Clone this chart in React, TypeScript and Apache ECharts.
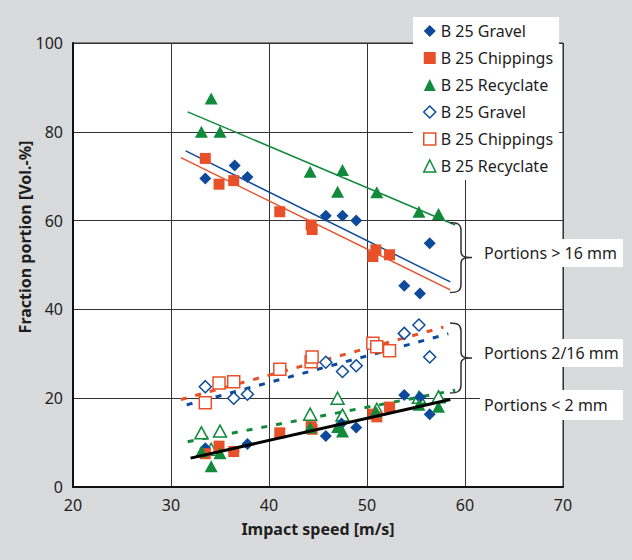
import { useEffect, useRef } from "react";
import * as echarts from "echarts";

const BLUE = "#0d4a9b";
const ORANGE = "#e8502a";
const GREEN = "#128a3b";
const INK = "#1e1e1e";
const FONT = '"Noto Sans", "Open Sans", sans-serif';

const materials = ["B 25 Gravel", "B 25 Chippings", "B 25 Recyclate"];
const MID = " (2/16 mm)";

// Fraction > 16 mm [speed m/s, vol.-%]
const gravelCoarse = [[33.5, 69.5], [36.5, 72.4], [37.8, 69.8], [45.8, 61.1], [47.5, 61.1], [48.9, 60.0], [53.8, 45.3], [55.4, 43.6], [56.4, 54.9]];
const chippingsCoarse = [[33.5, 74.0], [34.9, 68.2], [36.4, 69.0], [41.1, 62.0], [44.3, 59.0], [44.4, 58.0], [50.6, 51.9], [50.9, 53.4], [52.3, 52.3]];
const recyclateCoarse = [[33.1, 80.0], [34.1, 87.5], [35.0, 80.0], [44.2, 71.0], [47.0, 66.5], [47.5, 71.4], [51.0, 66.4], [55.3, 62.0], [57.3, 61.5]];

// Fraction 2/16 mm
const gravelMid = [[33.5, 22.6], [36.4, 20.0], [37.8, 20.9], [45.8, 28.1], [47.5, 26.0], [48.9, 27.3], [53.8, 34.6], [55.3, 36.5], [56.4, 29.3]];
const chippingsMid = [[33.5, 19.0], [34.9, 23.4], [36.4, 23.7], [41.1, 26.5], [44.3, 28.2], [44.4, 29.3], [50.6, 32.4], [51.0, 31.6], [52.3, 30.7]];
const recyclateMid = [[33.1, 12.2], [34.1, 8.5], [35.0, 12.6], [44.2, 16.4], [47.0, 20.0], [47.5, 16.2], [51.0, 17.5], [55.3, 20.2], [57.3, 20.3]];

// Fraction < 2 mm
const gravelFine = [[33.5, 8.7], [36.4, 8.0], [37.8, 9.7], [45.8, 11.5], [47.4, 14.3], [48.9, 13.4], [53.8, 20.7], [55.4, 20.2], [56.4, 16.4]];
const chippingsFine = [[33.5, 7.5], [34.9, 9.2], [36.4, 8.0], [41.1, 12.2], [44.3, 13.6], [44.4, 13.0], [50.6, 16.4], [51.0, 15.8], [52.3, 18.0]];
const recyclateFine = [[33.1, 8.0], [34.1, 4.7], [35.0, 7.6], [44.2, 13.4], [47.0, 13.5], [47.5, 12.5], [50.9, 17.0], [55.3, 18.5], [57.3, 18.1]];

// Linear trend lines, start and end points
const gravelCoarseFit = [[31.5, 75.7], [58.5, 46.2]];
const chippingsCoarseFit = [[31.0, 74.2], [58.5, 44.4]];
const recyclateCoarseFit = [[31.7, 84.5], [59.0, 59.0]];
const gravelMidFit = [[31.6, 18.5], [58.3, 34.5]];
const chippingsMidFit = [[31.0, 19.7], [57.8, 36.0]];
const recyclateMidFit = [[31.7, 10.2], [59.0, 21.8]];
const fineFit = [[32.0, 6.5], [58.5, 19.7]];

const annotations = ["Portions > 16 mm", "Portions 2/16 mm", "Portions < 2 mm"];

const colors = [BLUE, ORANGE, GREEN];
const symbols = ["diamond", "rect", "triangle"];
const sizes: any[] = [12, 11, [13, 12]];
const openSizes: any[] = [12, 12, [13, 12]];

echarts.graphic.registerShape(
  "brace",
  echarts.graphic.extendPath(
    "M0 0 C8 0 11 2 11 8 L11 29 C11 34 14 35 22 35 C14 35 11 36 11 41 L11 62 C11 68 8 70 0 70",
    {}
  )
);

function filledSeries(i: number, data: number[][]) {
  return {
    type: "scatter",
    name: materials[i],
    data,
    symbol: symbols[i],
    symbolSize: sizes[i],
    itemStyle: { color: colors[i], opacity: 1 },
    z: 3,
  };
}

function openSeries(i: number, data: number[][]) {
  return {
    type: "scatter",
    name: materials[i] + MID,
    data,
    symbol: symbols[i],
    symbolSize: openSizes[i],
    itemStyle: { color: "#fff", borderColor: colors[i], borderWidth: 1.5, opacity: 1 },
    z: 3,
  };
}

function fitSeries(name: string, data: number[][], color: string, width: number, dashed: boolean, z: number) {
  return {
    type: "line",
    name,
    data,
    symbol: "none",
    silent: true,
    lineStyle: { color, width, type: dashed ? [6, 9] : "solid", cap: "butt" },
    z,
  };
}

export default function App() {
  const ref = useRef<HTMLDivElement>(null);

  useEffect(() => {
    document.body.style.margin = "0";
    const chart = echarts.init(ref.current!, undefined, { renderer: "svg" });

    const legendData = [
      ...materials.map((m, i) => ({ name: m, icon: symbols[i], itemStyle: { color: colors[i], borderWidth: 0 } })),
      ...materials.map((m, i) => ({
        name: m + MID,
        icon: symbols[i],
        itemStyle: { color: "#fff", borderColor: colors[i], borderWidth: 1.5 },
      })),
    ];

    const textBox = (label: string, y: number, h: number) => ({
      type: "group",
      z: 100,
      children: [
        { type: "rect", shape: { x: 480, y, width: 143, height: h }, style: { fill: "#fff" }, z: 100 },
        {
          type: "text",
          z: 101,
          style: {
            text: label,
            x: 484,
            y: y + h / 2,
            textVerticalAlign: "middle",
            font: `16px ${FONT}`,
            fill: INK,
          },
        },
      ],
    });

    chart.setOption({
      animation: false,
      backgroundColor: "#d9dadc",
      textStyle: { fontFamily: FONT },
      grid: {
        left: 73,
        top: 43,
        right: 69,
        bottom: 73,
        show: true,
        backgroundColor: "#fff",
        borderColor: "#222",
        borderWidth: 1,
      },
      xAxis: {
        type: "value",
        min: 20,
        max: 70,
        interval: 10,
        name: "Impact speed [m/s]",
        nameLocation: "middle",
        nameGap: 34,
        nameTextStyle: { fontFamily: FONT, fontSize: 16, fontWeight: "bold", color: INK },
        axisLine: { show: true, lineStyle: { color: "#111", width: 2 } },
        axisTick: { show: false },
        axisLabel: { fontFamily: FONT, fontSize: 16, color: INK, margin: 10 },
        splitLine: { show: true, lineStyle: { color: "#333", width: 1 } },
      },
      yAxis: {
        type: "value",
        min: 0,
        max: 100,
        interval: 20,
        axisLine: { show: true, lineStyle: { color: "#111", width: 2 } },
        axisTick: { show: false },
        axisLabel: { fontFamily: FONT, fontSize: 16, color: INK, margin: 10 },
        splitLine: { show: true, lineStyle: { color: "#333", width: 1 } },
      },
      legend: {
        orient: "vertical",
        left: 413,
        top: 17,
        backgroundColor: "#fff",
        padding: [4, 6, 4, 10],
        itemWidth: 12,
        itemHeight: 12,
        itemGap: 7,
        selectedMode: false,
        textStyle: { fontFamily: FONT, fontSize: 16, color: INK, lineHeight: 20 },
        formatter: (name: string) => name.replace(MID, ""),
        data: legendData,
        z: 10,
      },
      series: [
        fitSeries("fit gravel coarse", gravelCoarseFit, BLUE, 1.5, false, 2),
        fitSeries("fit chippings coarse", chippingsCoarseFit, ORANGE, 1.5, false, 2),
        fitSeries("fit recyclate coarse", recyclateCoarseFit, GREEN, 1.5, false, 2),
        fitSeries("fit gravel mid", gravelMidFit, BLUE, 3, true, 2),
        fitSeries("fit chippings mid", chippingsMidFit, ORANGE, 3, true, 2),
        fitSeries("fit recyclate mid", recyclateMidFit, GREEN, 3, true, 2),
        filledSeries(0, gravelCoarse),
        filledSeries(1, chippingsCoarse),
        filledSeries(2, recyclateCoarse),
        openSeries(0, gravelMid),
        openSeries(1, chippingsMid),
        openSeries(2, recyclateMid),
        filledSeries(0, gravelFine),
        filledSeries(1, chippingsFine),
        filledSeries(2, recyclateFine),
        fitSeries("fit fine", fineFit, "#000", 3, false, 4),
      ],
      graphic: [
        {
          type: "text",
          x: 25,
          y: 237,
          rotation: Math.PI / 2,
          z: 100,
          style: {
            text: "Fraction portion [Vol.-%]",
            textAlign: "center",
            textVerticalAlign: "middle",
            font: `bold 16px ${FONT}`,
            fill: INK,
          },
        },
        { type: "brace", x: 450, y: 222.5, z: 100, style: { stroke: "#333", fill: "none", lineWidth: 1.5 } },
        { type: "brace", x: 450, y: 323, z: 100, style: { stroke: "#333", fill: "none", lineWidth: 1.5 } },
        textBox(annotations[0], 239, 28),
        textBox(annotations[1], 339, 28),
        textBox(annotations[2], 390, 30),
      ],
    });

    return () => chart.dispose();
  }, []);

  return <div ref={ref} style={{ width: 632, height: 560 }} />;
}
